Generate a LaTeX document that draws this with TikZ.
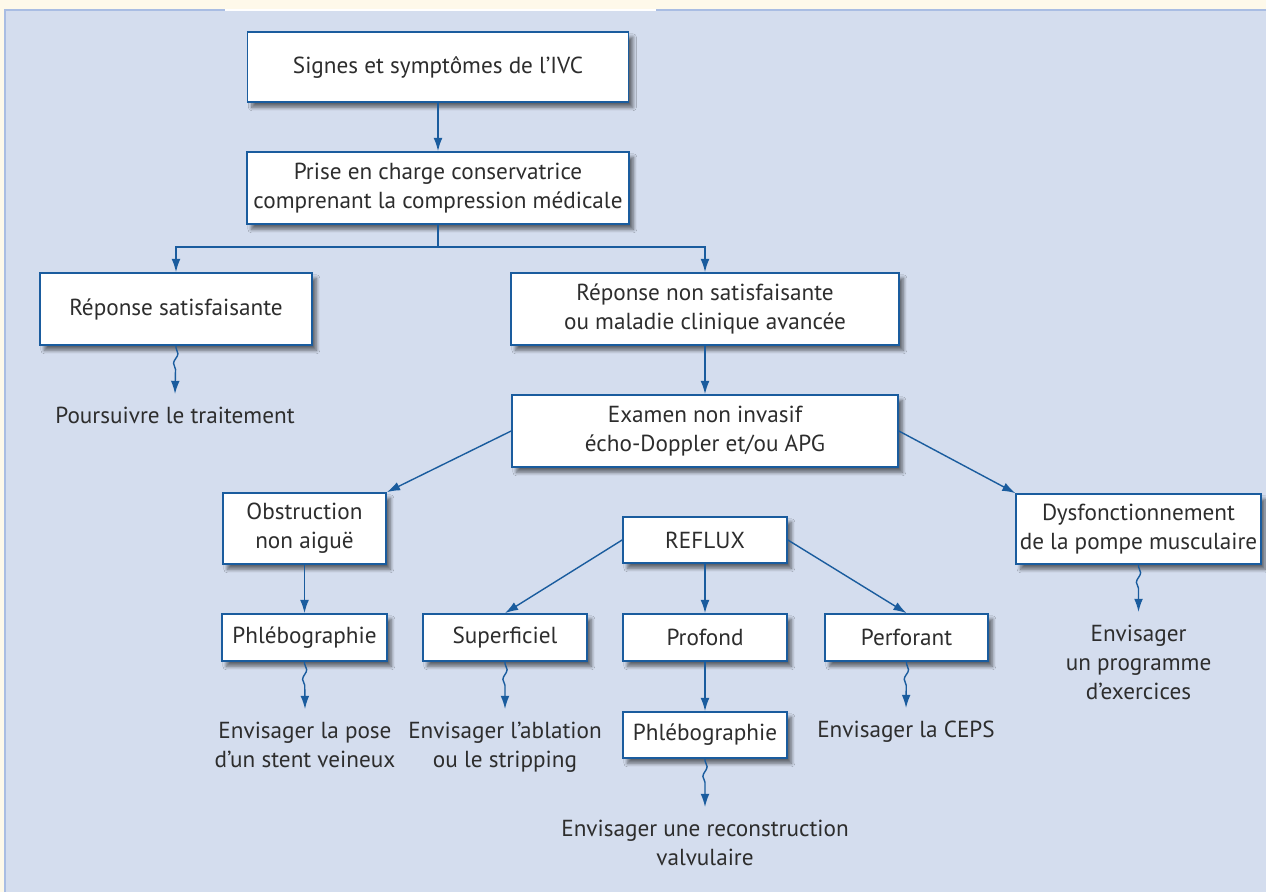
\documentclass[tikz,border=0pt]{standalone}
\usepackage{fontspec}
\setmainfont{PT Sans}
\usetikzlibrary{arrows.meta,shadows.blur,decorations.pathmorphing}
\definecolor{panel}{RGB}{212,221,238}
\definecolor{cream}{RGB}{254,249,234}
\definecolor{frameblue}{RGB}{169,189,227}
\definecolor{linkblue}{RGB}{26,92,158}
\definecolor{ink}{RGB}{45,45,45}
\tikzset{%
  flowbox/.style  = {shape=rectangle, draw=linkblue, line width=1pt,%
                     fill=white, align=center, text=ink, inner sep=2pt,%
                     blur shadow={shadow xshift=2.5pt, shadow yshift=-3pt,%
                                  shadow blur steps=8, shadow opacity=55}},%
  result/.style   = {anchor=north, align=center, text=ink,%
                     inner xsep=2pt, inner ysep=7pt},%
  link/.style     = {draw=linkblue, line width=0.8pt,%
                     -{Latex[length=7.5pt,width=5pt]}},%
  squiggle/.style = {link, decorate, decoration={snake, amplitude=1.2pt,%
                     segment length=11pt, pre length=1pt, post length=9pt}}%
}

\begin{document}
\begin{tikzpicture}[x=0.02cm,y=-0.02cm,
	every node/.style = {font=\fontsize{13.2pt}{16.5pt}\selectfont}]
\useasboundingbox (0,0) rectangle (1266,892);
	% panel
	\fill[cream] (0,0) rectangle (1266,892);
	\fill[panel] (5,10) rectangle (1266,892);
	\draw[frameblue, line width=1pt] (5,892) -- (5,10) -- (225,10);
	\draw[white, line width=1pt] (225,10) -- (656,10);
	\draw[frameblue, line width=1pt] (656,10) -- (1266,10);
	% boxes
	\node [flowbox, minimum width=7.62cm, minimum height=1.4cm] (top) at (438,67)
		{Signes et symptômes de l’IVC};
	\node [flowbox, minimum width=7.64cm, minimum height=1.44cm] (prise) at (438,188)
		{Prise en charge conservatrice\\comprenant la compression médicale};
	\node [flowbox, minimum width=5.44cm, minimum height=1.44cm] (sat) at (176,309)
		{Réponse satisfaisante};
	\node [flowbox, minimum width=7.76cm, minimum height=1.44cm] (nonsat) at (705,309)
		{Réponse non satisfaisante\\ou maladie clinique avancée};
	\node [flowbox, minimum width=7.72cm, minimum height=1.44cm] (exam) at (705,431)
		{Examen non invasif\\écho-Doppler et/ou APG};
	\node [flowbox, minimum width=3.26cm, minimum height=1.42cm] (obst) at (304.5,528.5)
		{Obstruction\\non aiguë};
	\node [flowbox, minimum width=4.78cm, minimum height=1.4cm] (dysf) at (1138.5,529)
		{Dysfonctionnement\\de la pompe musculaire};
	\node [flowbox, minimum width=3.28cm, minimum height=0.92cm] (reflux) at (705,540)
		{REFLUX};
	\node [flowbox, minimum width=3.3cm, minimum height=0.94cm] (phlebo1) at (304.5,637.5)
		{Phlébographie};
	\node [flowbox, minimum width=3.28cm, minimum height=0.94cm] (superf) at (505,637.5)
		{Superficiel};
	\node [flowbox, minimum width=3.28cm, minimum height=0.94cm] (profond) at (705,637.5)
		{Profond};
	\node [flowbox, minimum width=3.26cm, minimum height=0.94cm] (perfor) at (906.5,637.5)
		{Perforant};
	\node [flowbox, minimum width=3.28cm, minimum height=0.92cm] (phlebo2) at (705,735)
		{Phlébographie};
	% outcomes
	\node [result] (poursuivre) at (175,394) {Poursuivre le traitement};
	\node [result] (stent) at (305,709) {Envisager la pose\\d’un stent veineux};
	\node [result] (ablation) at (505,709) {Envisager l’ablation\\ou le stripping};
	\node [result] (recon) at (705,807) {Envisager une reconstruction\\valvulaire};
	\node [result] (ceps) at (906,708) {Envisager la CEPS};
	\node [result] (exer) at (1138.5,612) {Envisager\\un programme\\d’exercices};
	% connectors
	\draw [link] (top) -- (prise);
	\draw [link] (prise.south) -- ++(0,22) -| (sat.north);
	\draw [link] (prise.south) -- ++(0,22) -| (nonsat.north);
	\draw [link] (nonsat) -- (exam);
	\draw [link] (exam.west) -- (obst.north east);
	\draw [link] (exam.east) -- (dysf.north west);
	\draw [link] (obst) -- (phlebo1);
	\draw [link] (reflux.west) -- (superf.north);
	\draw [link] (reflux) -- (profond);
	\draw [link] (reflux.east) -- (perfor.north);
	\draw [link] (profond) -- (phlebo2);
	\draw [squiggle] (sat.south) -- (poursuivre.north);
	\draw [squiggle] (phlebo1.south) -- (stent.north);
	\draw [squiggle] (superf.south) -- (ablation.north);
	\draw [squiggle] (phlebo2.south) -- (recon.north);
	\draw [squiggle] (perfor.south) -- (ceps.north);
	\draw [squiggle] (dysf.south) -- (exer.north);
\end{tikzpicture}
\end{document}
